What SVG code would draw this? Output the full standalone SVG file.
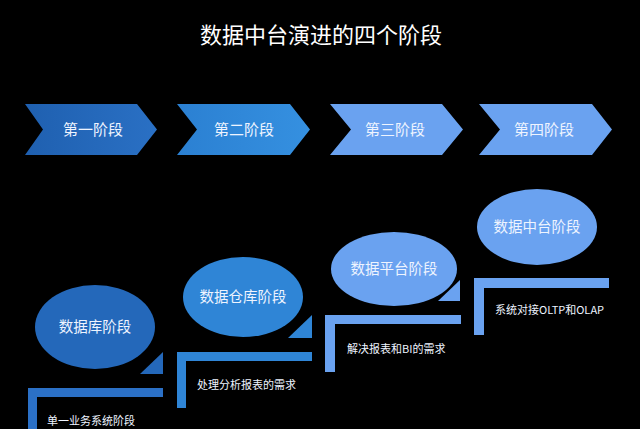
<svg xmlns="http://www.w3.org/2000/svg" width="640" height="429" viewBox="0 0 640 429">
<defs>
<style>
text{font-family:"Noto Sans CJK SC","Liberation Sans",sans-serif;fill:#ffffff}
.t{font-size:22px;text-anchor:middle}
.c{font-size:15px;text-anchor:middle;fill:#eef4ff}
.e{font-size:14.5px;text-anchor:middle;fill:#eef4ff}
.d{font-size:11px;fill:#eef4ff}
.b1{fill:#2468ba}
.b2{fill:#2f85d6}
.b3{fill:#6aa2f0}
</style>
<linearGradient id="g1" x1="0" y1="0" x2="1" y2="0"><stop offset="0" stop-color="#1f60b0"/><stop offset="1" stop-color="#2a70c4"/></linearGradient>
<linearGradient id="g2" x1="0" y1="0" x2="1" y2="0"><stop offset="0" stop-color="#2b80d2"/><stop offset="1" stop-color="#3590e0"/></linearGradient>
</defs>
<rect width="640" height="429" fill="#000"/>
<text class="t" x="321" y="43">数据中台演进的四个阶段</text>

<g id="stage1">
<polygon points="25,104 137,104 157,129.5 137,155 25,155 43,129.5" fill="url(#g1)"/>
<text class="c" x="93" y="135">第一阶段</text>
</g>
<g id="stage2">
<polygon points="177,104 290,104 310,129.5 290,155 177,155 197,129.5" fill="url(#g2)"/>
<text class="c" x="244" y="135">第二阶段</text>
</g>
<g id="stage3">
<polygon points="330,104 442,104 463,129.5 442,155 330,155 351,129.5" class="b3"/>
<text class="c" x="395" y="135">第三阶段</text>
</g>
<g id="stage4">
<polygon points="479,104 592,104 612,129.5 592,155 479,155 500,129.5" class="b3"/>
<text class="c" x="544" y="135">第四阶段</text>
</g>

<g id="phase1">
<ellipse cx="95" cy="327" rx="60" ry="42" class="b1"/>
<text class="e" x="95" y="332">数据库阶段</text>
<polygon points="140,374 163,352 163,374" class="b1"/>
<polygon points="28,388 163,388 163,397 37,397 37,429 28,429" fill="#2b70c6"/>
<text class="d" x="47" y="425">单一业务系统阶段</text>
</g>
<g id="phase2">
<ellipse cx="243" cy="297" rx="60" ry="40" class="b2"/>
<text class="e" x="243" y="302">数据仓库阶段</text>
<polygon points="288,338 312,315 312,338" class="b2"/>
<polygon points="177,352 312,352 312,361 186,361 186,408 177,408" class="b2"/>
<text class="d" x="197" y="389">处理分析报表的需求</text>
</g>
<g id="phase3">
<ellipse cx="394" cy="269" rx="63" ry="37" class="b3"/>
<text class="e" x="394" y="274">数据平台阶段</text>
<polygon points="438,301 460,280 460,301" class="b3"/>
<polygon points="325,315 461,315 461,324 335,324 335,372 325,372" class="b3"/>
<text class="d" x="347" y="353">解决报表和BI的需求</text>
</g>
<g id="phase4">
<ellipse cx="537" cy="227" rx="60" ry="38" class="b3"/>
<text class="e" x="537" y="232">数据中台阶段</text>
<polygon points="474,278 609,278 609,288 484,288 484,335 474,335" class="b3"/>
<text class="d" x="495" y="314">系统对接OLTP和OLAP</text>
</g>
<g id="connectors"></g>
</svg>
